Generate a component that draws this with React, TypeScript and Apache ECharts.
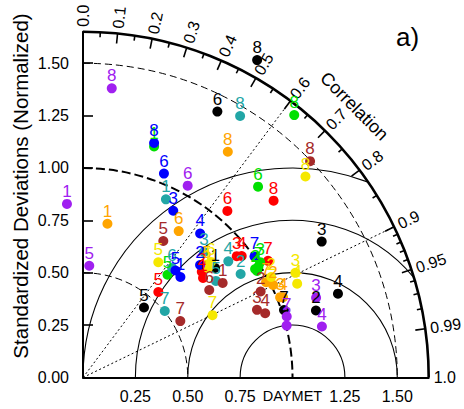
import React, { useEffect, useRef } from 'react';
import * as echarts from 'echarts';

// Model identifiers (the digit drawn above each point)
const modelIds = ['1', '2', '3', '4', '5', '6', '7', '8'];

// Groups (one colour each)
const groupNames = ['black', 'red', 'orange', 'yellow', 'green', 'teal', 'blue', 'purple', 'brown'];
const groupColors = ['#000000', '#FF0000', '#FFA500', '#F5E800', '#00E000', '#22A6A6', '#0000FF', '#A020F0', '#A52A2A'];

// Normalized standard deviation and correlation, models 1..8
const stdBlack = [0.819, 1.157, 1.311, 1.281, 0.443, 1.422, 1.012, 1.728];
const corrBlack = [0.770, 0.961, 0.869, 0.950, 0.657, 0.451, 0.948, 0.481];
const stdRed = [0.744, 0.759, 0.935, 0.954, 0.544, 1.052, 1.044, 1.241];
const corrRed = [0.770, 0.747, 0.785, 0.794, 0.661, 0.655, 0.846, 0.733];
const stdOrange = [0.743, 1.009, 1.016, 1.029, 0.799, 0.835, 0.985, 1.280];
const corrOrange = [0.157, 0.899, 0.926, 0.928, 0.741, 0.547, 0.887, 0.540];
const stdYellow = [0.793, 1.018, 1.130, 1.116, 0.657, 0.823, 0.686, 1.431];
const corrYellow = [0.752, 0.882, 0.897, 0.916, 0.547, 0.742, 0.901, 0.742];
const stdGreen = [1.154, 0.971, 1.009, 0.974, 0.635, 1.236, 0.991, 1.608];
const corrGreen = [0.294, 0.846, 0.838, 0.853, 0.635, 0.676, 0.845, 0.627];
const stdTeal = [0.938, 0.900, 0.832, 0.888, 0.784, 0.674, 0.503, 1.456];
const corrTeal = [0.422, 0.836, 0.694, 0.781, 0.809, 0.631, 0.776, 0.515];
const stdBlue = [0.668, 0.775, 0.905, 0.886, 0.675, 1.047, 1.002, 1.170];
const corrBlue = [0.696, 0.721, 0.476, 0.631, 0.654, 0.369, 0.817, 0.290];
const stdPurple = [0.832, 1.003, 1.176, 1.166, 0.534, 1.043, 1.015, 1.387];
const corrPurple = [-0.092, 0.969, 0.946, 0.978, 0.056, 0.479, 0.958, 0.099];
const stdBrown = [0.805, 0.942, 0.891, 0.922, 0.756, 0.733, 0.537, 1.497];
const corrBrown = [0.828, 0.900, 0.932, 0.943, 0.507, 0.822, 0.865, 0.724];

const stdSets = [stdBlack, stdRed, stdOrange, stdYellow, stdGreen, stdTeal, stdBlue, stdPurple, stdBrown];
const corrSets = [corrBlack, corrRed, corrOrange, corrYellow, corrGreen, corrTeal, corrBlue, corrPurple, corrBrown];

// Axes
const maxStd = 1.65;
const yTickValues = [0, 0.25, 0.5, 0.75, 1.0, 1.25, 1.5];
const xLabelValues = [0.25, 0.5, 0.75, 1.0, 1.25, 1.5];
const refLabel = 'DAYMET';
const corrLabelValues = [0, 0.1, 0.2, 0.3, 0.4, 0.5, 0.6, 0.7, 0.8, 0.9, 0.95, 0.99, 1.0];
const corrLabelTexts = ['0.0', '0.1', '0.2', '0.3', '0.4', '0.5', '0.6', '0.7', '0.8', '0.9', '0.95', '0.99', '1.0'];
const corrMajorTicks = [0.1, 0.2, 0.3, 0.4, 0.5, 0.6, 0.7, 0.8, 0.9, 0.95, 0.99];
const corrMinorTicks = [0.05, 0.15, 0.25, 0.35, 0.45, 0.55, 0.65, 0.75, 0.85, 0.91, 0.92, 0.93, 0.94, 0.96, 0.97, 0.98];
const stdArcs = [0.5, 1.0, 1.5];
const rmsArcs = [0.25, 0.5, 0.75, 1.0];
const corrLines = [0.6, 0.9];

const FONT = '"Liberation Sans", Arial, Helvetica, sans-serif';

function renderDecor(params: any, api: any) {
  const o = api.coord([0, 0]);
  const unit = api.size([1, 1])[0];
  const R = maxStd * unit;
  const children: any[] = [];

  // std dashed arcs
  stdArcs.forEach((s) => {
    children.push({
      type: 'arc',
      shape: { cx: o[0], cy: o[1], r: s * unit, startAngle: -Math.PI / 2, endAngle: 0, clockwise: true },
      style: { fill: 'none', stroke: '#000', lineWidth: s === 1 ? 2 : 1, lineDash: s === 1 ? [9, 4] : [7, 4] },
    });
  });

  // centred RMS arcs
  const c = api.coord([1, 0]);
  rmsArcs.forEach((r) => {
    let phi = 0;
    if (1 + r > maxStd) {
      phi = Math.acos((maxStd * maxStd - 1 - r * r) / (2 * r));
    }
    children.push({
      type: 'arc',
      shape: { cx: c[0], cy: c[1], r: r * unit, startAngle: -Math.PI, endAngle: -phi, clockwise: true },
      style: { fill: 'none', stroke: '#000', lineWidth: 1.1 },
    });
  });

  // correlation dotted lines
  corrLines.forEach((cv) => {
    const t = Math.acos(cv);
    children.push({
      type: 'line',
      shape: { x1: o[0], y1: o[1], x2: o[0] + R * Math.cos(t), y2: o[1] - R * Math.sin(t) },
      style: { stroke: '#000', lineWidth: 1, lineDash: [2, 2.5] },
    });
  });

  // outer arc
  children.push({
    type: 'arc',
    shape: { cx: o[0], cy: o[1], r: R, startAngle: -Math.PI / 2, endAngle: 0, clockwise: true },
    style: { fill: 'none', stroke: '#000', lineWidth: 2.6 },
  });

  const tick = (cv: number, len: number) => {
    const t = Math.acos(cv);
    children.push({
      type: 'line',
      shape: {
        x1: o[0] + R * Math.cos(t), y1: o[1] - R * Math.sin(t),
        x2: o[0] + (R - len) * Math.cos(t), y2: o[1] - (R - len) * Math.sin(t),
      },
      style: { stroke: '#000', lineWidth: 1.6 },
    });
  };
  corrMajorTicks.forEach((cv) => tick(cv, 10));
  corrMinorTicks.forEach((cv) => tick(cv, 5));

  corrLabelValues.forEach((cv, i) => {
    const t = Math.acos(cv);
    const rr = R + 5;
    children.push({
      type: 'text',
      x: o[0] + rr * Math.cos(t),
      y: o[1] - rr * Math.sin(t),
      rotation: t,
      style: {
        text: corrLabelTexts[i], fill: '#000', font: '16px ' + FONT,
        align: 'left', verticalAlign: 'middle', textAlign: 'left', textVerticalAlign: 'middle',
      },
    });
  });

  const ct = (45 * Math.PI) / 180;
  const cr = R + 38;
  children.push({
    type: 'text',
    x: o[0] + cr * Math.cos(ct),
    y: o[1] - cr * Math.sin(ct),
    rotation: ct - Math.PI / 2,
    style: {
      text: 'Correlation', fill: '#000', font: '18px ' + FONT,
      align: 'center', verticalAlign: 'middle', textAlign: 'center', textVerticalAlign: 'middle',
    },
  });

  return { type: 'group', children };
}

export default function App() {
  const ref = useRef<HTMLDivElement>(null);

  useEffect(() => {
    if (!ref.current) return;
    const chart = echarts.init(ref.current, undefined, { renderer: 'svg' });

    const scatterSeries = groupNames.map((name, g) => ({
      name,
      type: 'scatter',
      clip: false,
      symbol: 'circle',
      symbolSize: 10,
      z: 3,
      itemStyle: { color: groupColors[g], opacity: 1 },
      label: {
        show: true,
        position: 'top',
        distance: -1,
        formatter: (p: any) => p.value[2],
        color: groupColors[g],
        fontSize: 17,
        fontFamily: FONT,
      },
      data: modelIds.map((m, i) => {
        const s = stdSets[g][i];
        const r = corrSets[g][i];
        return [s * r, s * Math.sqrt(1 - r * r), m];
      }),
    }));

    const option: any = {
      animation: false,
      backgroundColor: '#fff',
      textStyle: { fontFamily: FONT },
      grid: { left: 83, top: 31.8, width: 345.7, height: 345.7, containLabel: false },
      xAxis: {
        type: 'value', min: 0, max: maxStd,
        axisLine: { show: true, onZero: false, lineStyle: { color: '#000', width: 2 } },
        axisTick: { show: false },
        splitLine: { show: false },
        axisLabel: {
          customValues: xLabelValues,
          formatter: (v: number) => (Math.abs(v - 1) < 1e-9 ? '{r|' + refLabel + '}' : v.toFixed(2)),
          rich: { r: { fontSize: 14.5, fontFamily: FONT, color: '#000' } },
          color: '#000', fontSize: 16, fontFamily: FONT, margin: 11,
        },
      },
      yAxis: {
        type: 'value', min: 0, max: maxStd,
        axisLine: { show: true, onZero: false, lineStyle: { color: '#000', width: 2 } },
        axisTick: { show: true, inside: true, length: 10, customValues: yTickValues, lineStyle: { color: '#000', width: 1.6 } },
        splitLine: { show: false },
        axisLabel: {
          customValues: yTickValues,
          formatter: (v: number) => v.toFixed(2),
          color: '#000', fontSize: 16, fontFamily: FONT, margin: 14,
        },
      },
      graphic: [
        {
          type: 'text', x: 20, y: 186, rotation: Math.PI / 2,
          style: {
            text: 'Standardized Deviations (Normalized)', fill: '#000', font: '20.5px ' + FONT,
            align: 'center', verticalAlign: 'middle', textAlign: 'center', textVerticalAlign: 'middle',
          },
        },
        {
          type: 'text', x: 396, y: 37,
          style: {
            text: 'a)', fill: '#000', font: '26px ' + FONT,
            align: 'left', verticalAlign: 'middle', textAlign: 'left', textVerticalAlign: 'middle',
          },
        },
      ],
      series: [
        {
          type: 'custom',
          silent: true,
          z: 1,
          renderItem: renderDecor,
          data: [[0, 0]],
        },
        ...scatterSeries,
      ],
    };
    chart.setOption(option);
    return () => chart.dispose();
  }, []);

  return (
    <div
      ref={ref}
      style={{ position: 'fixed', left: 0, top: 0, width: 464, height: 409, background: '#fff' }}
    />
  );
}
